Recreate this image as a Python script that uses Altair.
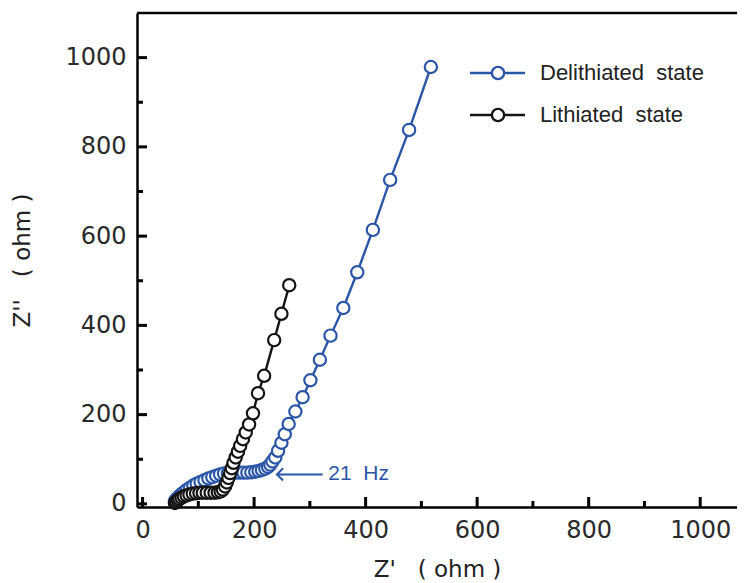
import altair as alt
import pandas as pd

NB = "\u00a0"

# ---- data ----
deli_x = [58, 61, 65, 69, 74, 79, 85, 91, 97, 104, 111, 118, 125, 132, 139, 146, 153, 160,
          167, 174, 181, 188, 195, 202, 208, 214, 220, 225, 229, 233, 238, 243, 249, 255,
          262, 274, 287, 301, 318, 337, 360, 385, 413, 444, 478, 517]
deli_y = [6, 11, 16, 21, 26, 31, 36, 41, 45, 49, 53, 57, 60, 63, 66, 68, 69, 70,
          70, 70, 70, 70, 71, 72, 74, 76, 79, 83, 88, 95, 104, 119, 137, 156,
          179, 207, 239, 277, 323, 377, 439, 519, 614, 726, 838, 979]

lith_x = [58, 60, 63, 66, 70, 74, 79, 84, 90, 96, 102, 108, 115, 122, 129, 135, 140, 144,
          148, 151, 154, 157, 160, 163, 167, 171, 175, 180, 185, 191, 198, 207, 218, 236,
          249, 263]
lith_y = [2, 5, 8, 11, 14, 17, 19, 21, 23, 24, 25, 25, 25, 25, 25, 26, 28, 32,
          39, 48, 58, 69, 80, 92, 104, 117, 130, 145, 160, 178, 203, 248, 287, 367,
          426, 490]

series_names = ["Delithiated" + NB + NB + "state", "Lithiated" + NB + NB + "state"]
series_colors = ["#2b56a8", "#141414"]

x_major = [0, 200, 400, 600, 800, 1000]
x_minor = [100, 300, 500, 700, 900]
y_major = [0, 200, 400, 600, 800, 1000]
y_minor = [100, 300, 500, 700, 900]

annot_text = ["21" + NB + NB + "Hz"]
arrow_x = [241, 323]
arrow_y = [66]
annot_text_x = [333]

x_title = "Z'" + NB * 3 + "(" + NB + "ohm" + NB + ")"
y_title = "Z''" + NB * 3 + "(" + NB + "ohm" + NB + ")"

# ---- layout ----
W, H = 600, 494
xsc = alt.Scale(domain=[-10, 1066], nice=False, zero=False)
ysc = alt.Scale(domain=[-7, 1100], nice=False, zero=False)
xaxis = alt.Axis(values=x_major, format="d", title=x_title, labelPadding=11,
                 titlePadding=16, labelFlush=False)
yaxis = alt.Axis(values=y_major, format="d", title=y_title, labelPadding=11,
                 titlePadding=30, labelFlush=False)


def xenc(field="x"):
    return alt.X(f"{field}:Q", scale=xsc, axis=xaxis)


def yenc(field="y"):
    return alt.Y(f"{field}:Q", scale=ysc, axis=yaxis)


layers = []

# inward ticks
for vals, ln in [(x_major, 10), (x_minor, 6)]:
    layers.append(
        alt.Chart(pd.DataFrame({"v": vals})).mark_rule(color="black", strokeWidth=3).encode(
            x=xenc("v"), y=alt.value(H), y2=alt.value(H - ln))
    )
for vals, ln in [(y_major, 10), (y_minor, 6)]:
    layers.append(
        alt.Chart(pd.DataFrame({"v": vals})).mark_rule(color="black", strokeWidth=3).encode(
            y=yenc("v"), x=alt.value(0), x2=alt.value(ln))
    )

# top frame line
layers.append(
    alt.Chart(pd.DataFrame({"a": [0]})).mark_rule(color="black", strokeWidth=2.5).encode(
        x=alt.value(0), x2=alt.value(W), y=alt.value(0))
)

# data series
for xs, ys, col in [(deli_x, deli_y, series_colors[0]), (lith_x, lith_y, series_colors[1])]:
    df = pd.DataFrame({"x": xs, "y": ys, "i": list(range(len(xs)))})
    base = alt.Chart(df)
    layers.append(base.mark_line(color=col, strokeWidth=2.4).encode(
        x=xenc(), y=yenc(), order="i:Q"))
    layers.append(base.mark_point(shape="circle", filled=True, fill="white", stroke=col,
                                  strokeWidth=2.2, size=150, opacity=1).encode(
        x=xenc(), y=yenc()))

# annotation: arrow + "21 Hz"
adf = pd.DataFrame({"x": [arrow_x[0]], "x2": [arrow_x[1]], "y": [arrow_y[0]],
                    "tx": [annot_text_x[0]], "t": annot_text})
layers.append(alt.Chart(adf).mark_rule(color=series_colors[0], strokeWidth=2).encode(
    x=xenc(), x2="x2:Q", y=yenc()))
layers.append(alt.Chart(adf).mark_point(shape="M1,-1L0,0L1,1", filled=False,
                                        stroke=series_colors[0], strokeWidth=2,
                                        size=150, opacity=1).encode(x=xenc(), y=yenc()))
layers.append(alt.Chart(adf).mark_text(align="left", baseline="middle", font="Liberation Sans",
                                       fontSize=21, color=series_colors[0]).encode(
    x=xenc("tx"), y=yenc(), text="t:N"))

# manual legend
leg_y = [60, 102]
for k in range(2):
    one = pd.DataFrame({"t": [series_names[k]]})
    col = series_colors[k]
    layers.append(alt.Chart(one).mark_rule(color=col, strokeWidth=2.6).encode(
        x=alt.value(333), x2=alt.value(388), y=alt.value(leg_y[k])))
    layers.append(alt.Chart(one).mark_point(shape="circle", filled=True, fill="white",
                                            stroke=col, strokeWidth=2.4, size=150,
                                            opacity=1).encode(
        x=alt.value(361), y=alt.value(leg_y[k])))
    layers.append(alt.Chart(one).mark_text(align="left", baseline="middle",
                                           font="Liberation Sans", fontSize=22,
                                           color="#222222").encode(
        x=alt.value(403), y=alt.value(leg_y[k]), text="t:N"))

chart = alt.layer(*layers).properties(
    width=W, height=H,
    padding={"left": 129, "top": 5, "right": 0, "bottom": 78},
    autosize=alt.AutoSizeParams(type="none"),
).configure_view(stroke=None).configure_axis(
    grid=False, ticks=False, domainColor="black", domainWidth=2.5,
    labelFont="DejaVu Sans", labelFontSize=24, labelColor="#2a2a2a",
    titleFont="DejaVu Sans", titleFontSize=23, titleFontWeight="normal", titleColor="#222222",
)

chart.save("out.html", embed_options={"renderer": "svg", "actions": False})
